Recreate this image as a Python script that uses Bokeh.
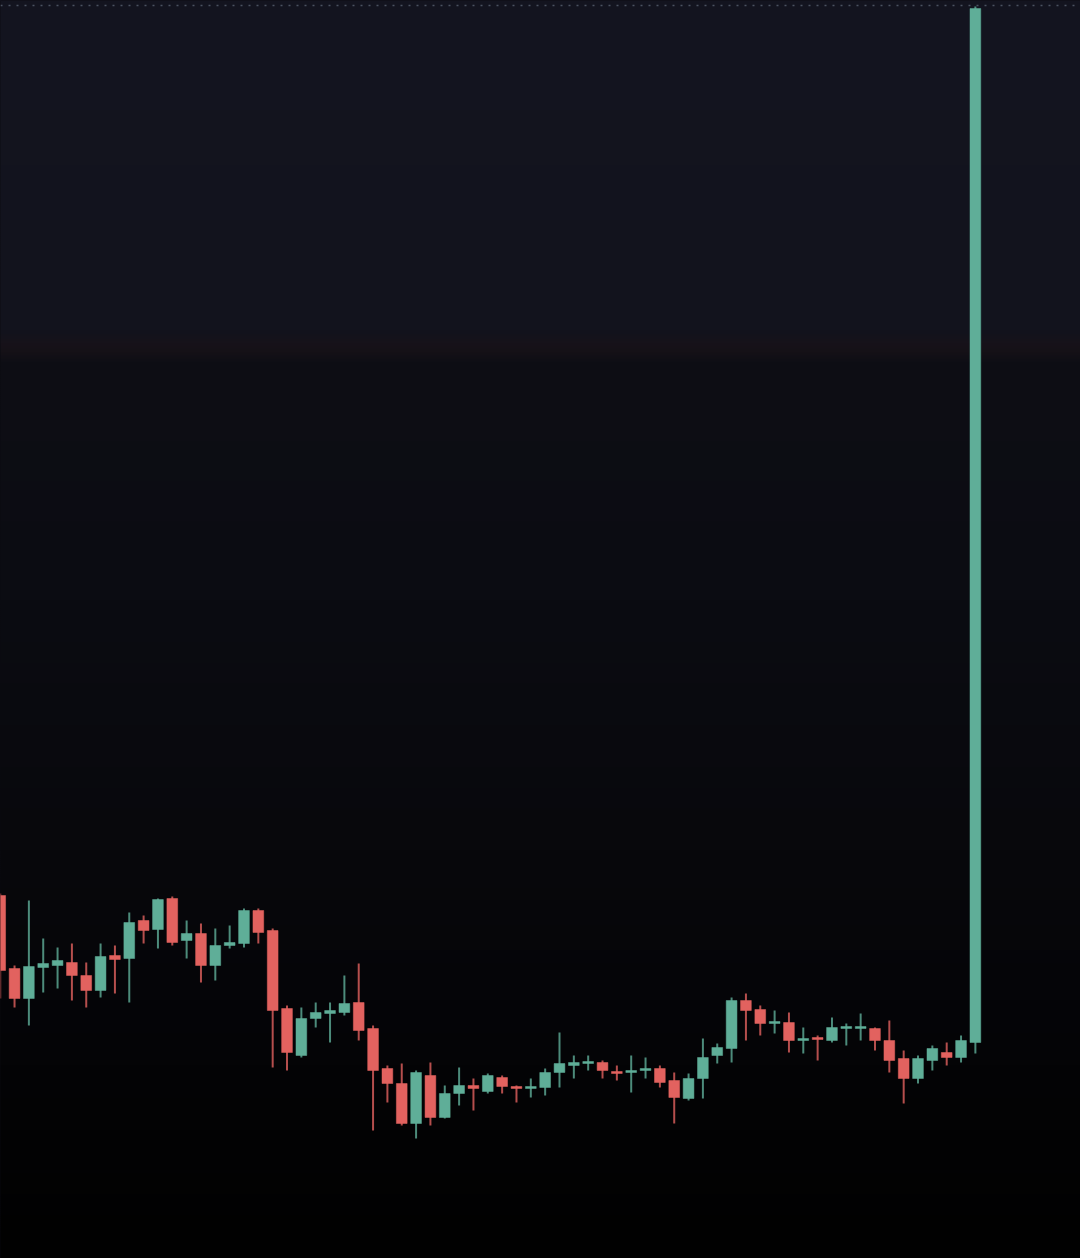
import numpy as np
from bokeh.plotting import figure
from bokeh.models import ColumnDataSource, Range1d, GlobalInlineStyleSheet, Span
from bokeh.embed import file_html
from bokeh.resources import INLINE

# ---- data (price units) ----
opens = [363, 290, 260, 291, 293, 296, 283, 268, 303, 300, 338, 329, 360, 318, 325, 293, 313, 315, 348, 328,
         250, 203, 240, 245, 246, 256, 230, 190, 175, 135, 183, 141, 165, 173, 167, 181, 172, 170, 171, 186,
         193, 195, 196, 187, 186, 188, 190, 178, 160, 180, 203, 210, 258, 249, 235, 236, 218, 221, 218, 230,
         230, 230, 218, 200, 180, 198, 206, 201, 216]
closes = [288, 260, 292, 295, 298, 283, 268, 302, 299, 336, 328, 359, 316, 325, 293, 313, 316, 348, 326, 248,
          206, 240, 246, 248, 255, 228, 188, 175, 135, 186, 141, 165, 173, 170, 183, 172, 170, 172, 186, 195,
          196, 197, 188, 185, 188, 190, 176, 161, 180, 201, 211, 258, 248, 235, 237, 218, 220, 219, 231, 232,
          232, 218, 198, 180, 200, 210, 201, 218, 1250]
highs = [365, 293, 358, 320, 311, 315, 296, 315, 313, 346, 343, 360, 362, 338, 335, 330, 333, 350, 350, 330,
         253, 251, 256, 256, 283, 295, 233, 193, 195, 188, 196, 173, 191, 180, 185, 183, 173, 180, 190, 226,
         203, 203, 198, 193, 203, 201, 193, 186, 185, 220, 215, 261, 265, 253, 248, 246, 231, 223, 241, 235,
         245, 231, 238, 208, 203, 213, 216, 223, 1252]
lows = [260, 251, 233, 266, 270, 258, 251, 261, 265, 256, 315, 310, 313, 300, 276, 278, 310, 311, 315, 191,
        188, 201, 231, 216, 243, 218, 128, 156, 133, 120, 133, 140, 153, 148, 165, 165, 156, 161, 163, 171,
        180, 188, 180, 178, 166, 180, 171, 135, 158, 160, 195, 196, 218, 223, 225, 206, 205, 198, 216, 213,
        218, 208, 186, 155, 175, 188, 193, 196, 205]

idx = list(range(len(opens)))

RED = "#e2625f"
GREEN = "#5fae98"
colors = [GREEN if c >= o else RED for o, c in zip(opens, closes)]
tops = [max(o, c) for o, c in zip(opens, closes)]
bottoms = [min(o, c) for o, c in zip(opens, closes)]

src = ColumnDataSource(dict(x=idx, open=opens, close=closes, high=highs, low=lows,
                            top=tops, bottom=bottoms, color=colors))

W, H = 1080, 1258
X0, X1 = 0.021, 75.33
Y0, Y1 = 0, 1258

p = figure(width=W, height=H, output_backend="svg", toolbar_location=None,
           x_range=Range1d(X0, X1), y_range=Range1d(Y0, Y1),
           min_border=0, min_border_left=0, min_border_right=0,
           min_border_top=0, min_border_bottom=0)
p.axis.visible = False
p.grid.visible = False
p.outline_line_color = None
p.background_fill_color = "#0b0b10"
p.border_fill_color = "#0b0b10"

# ---- background gradient (style only) ----
stops_y = [0, 330, 343, 352, 362, 600, 850, 1000, 1130, 1258]
stops_c = [(20, 21, 32), (18, 19, 29), (23, 18, 26), (21, 17, 23), (14, 14, 21),
           (11, 12, 18), (8, 8, 12), (5, 5, 8), (3, 3, 4), (1, 1, 1)]
rows = H
yimg = 1258 - (Y0 + (np.arange(rows) + 0.5) * (Y1 - Y0) / rows)
sc = np.array(stops_c, dtype=float)
r = np.interp(yimg, stops_y, sc[:, 0]).astype(np.uint32)
g = np.interp(yimg, stops_y, sc[:, 1]).astype(np.uint32)
b = np.interp(yimg, stops_y, sc[:, 2]).astype(np.uint32)
rgba = (255 << 24) | (b << 16) | (g << 8) | r
img = np.repeat(rgba.reshape(rows, 1), 4, axis=1).astype(np.uint32)
p.image_rgba(image=[img], x=X0, y=Y0, dw=X1 - X0, dh=Y1 - Y0)

# dotted line along the top
p.add_layout(Span(location=1253, dimension="width", line_color="#4b5261",
                  line_width=1.5, line_dash="2 6"))

# ---- candles ----
p.segment(x0="x", y0="high", x1="x", y1="low", source=src, line_color="color",
          line_width=2, line_alpha=0.8)
p.vbar(x="x", width=0.75, top="top", bottom="bottom", source=src,
       fill_color="color", line_color="color", line_width=0.5)

css = ("html{min-height:100%;background:linear-gradient(to bottom,"
       "#141520 0px,#12131d 330px,#17121a 343px,#0e0e15 362px,#0b0c12 600px,"
       "#08080c 850px,#050508 1000px,#030304 1130px,#010101 1258px) no-repeat;}"
       "body{background:transparent;}")
p.stylesheets = [GlobalInlineStyleSheet(css=css)]

open("out.html", "w").write(file_html(p, INLINE))
